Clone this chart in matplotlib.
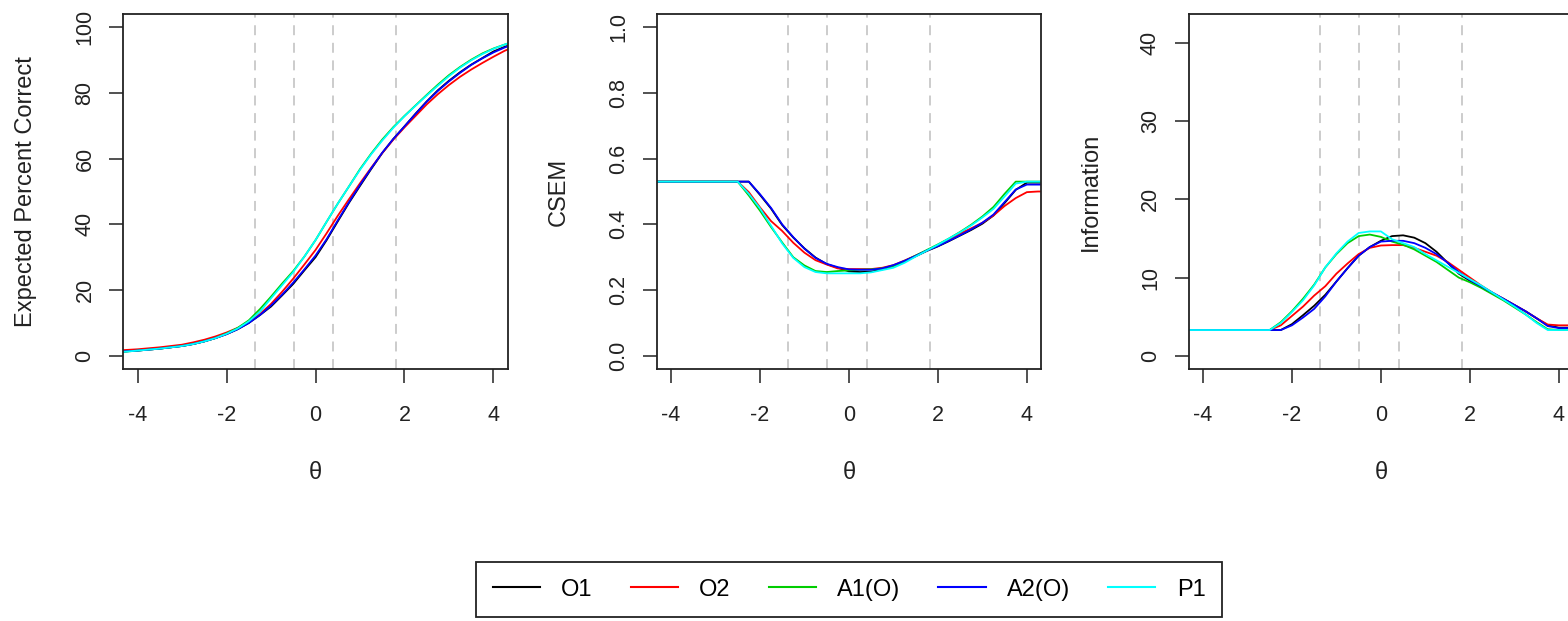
import matplotlib
matplotlib.use('agg')
import matplotlib.pyplot as plt

plt.rcParams['font.family'] = ['Liberation Sans', 'DejaVu Sans']

THETA = [-4.5, -4.25, -4.0, -3.75, -3.5, -3.25, -3.0, -2.75, -2.5, -2.25, -2.0,
         -1.75, -1.5, -1.25, -1.0, -0.75, -0.5, -0.25, 0.0, 0.25, 0.5, 0.75,
         1.0, 1.25, 1.5, 1.75, 2.0, 2.25, 2.5, 2.75, 3.0, 3.25, 3.5, 3.75,
         4.0, 4.25, 4.5]

CUTS = [-1.37, -0.49, 0.40, 1.82]

SERIES = ['O1', 'O2', 'A1(O)', 'A2(O)', 'P1']
COLORS = ['black', 'red', '#00CD00', 'blue', 'cyan']

# expected percent correct
epc_o1 = [1.2, 1.4, 1.6, 1.9, 2.2, 2.6, 3.0, 3.6, 4.4, 5.4, 6.6, 8.1, 10.0, 12.4,
          15.0, 18.4, 21.9, 26.0, 30.0, 35.2, 40.9, 46.5, 51.7, 56.8, 61.7,
          66.0, 69.8, 73.7, 77.4, 80.8, 83.7, 86.3, 88.6, 90.6, 92.6, 94.0, 95.1]
epc_o2 = [1.6, 1.8, 2.0, 2.3, 2.6, 3.0, 3.4, 4.1, 4.9, 5.9, 7.1, 8.5, 10.3, 12.7,
          15.8, 19.5, 23.5, 27.8, 32.2, 37.3, 42.6, 47.6, 52.5, 57.2, 61.7,
          65.8, 69.5, 73.0, 76.5, 79.6, 82.4, 84.9, 87.1, 89.1, 91.0, 92.8, 94.2]
epc_a1 = [1.1, 1.3, 1.6, 1.9, 2.2, 2.6, 3.0, 3.6, 4.4, 5.4, 6.8, 8.5, 10.8, 14.2,
          18.0, 22.0, 25.8, 30.2, 35.2, 40.8, 46.3, 51.5, 56.8, 61.5, 65.8,
          69.6, 73.0, 76.2, 79.4, 82.5, 85.4, 87.9, 90.1, 92.0, 93.5, 94.7, 95.8]
epc_a2 = [1.2, 1.4, 1.6, 1.9, 2.2, 2.6, 3.0, 3.6, 4.4, 5.4, 6.6, 8.1, 10.0, 12.4,
          15.3, 18.6, 22.3, 26.3, 30.5, 35.5, 41.2, 46.7, 52.0, 57.0, 61.8,
          66.0, 69.8, 73.6, 77.3, 80.6, 83.5, 86.1, 88.5, 90.5, 92.3, 93.8, 95.0]
epc_p1 = [1.1, 1.3, 1.6, 1.9, 2.2, 2.6, 3.0, 3.6, 4.4, 5.4, 6.7, 8.3, 10.5, 13.4,
          17.5, 21.5, 25.5, 30.2, 35.2, 40.8, 46.3, 51.5, 56.6, 61.3, 65.5,
          69.4, 72.9, 76.1, 79.2, 82.2, 85.1, 87.7, 89.9, 91.8, 93.4, 94.7, 95.8]

# CSEM
csem_o1 = [0.530, 0.530, 0.530, 0.530, 0.530, 0.530, 0.530, 0.530, 0.530, 0.530,
           0.490, 0.448, 0.398, 0.360, 0.327, 0.299, 0.279, 0.268, 0.257, 0.255,
           0.256, 0.263, 0.274, 0.287, 0.303, 0.319, 0.333, 0.349, 0.366, 0.383,
           0.402, 0.427, 0.465, 0.505, 0.527, 0.527, 0.527]
csem_o2 = [0.530, 0.530, 0.530, 0.530, 0.530, 0.530, 0.530, 0.530, 0.530, 0.498,
           0.452, 0.410, 0.380, 0.344, 0.314, 0.291, 0.278, 0.266, 0.264, 0.264,
           0.264, 0.268, 0.276, 0.290, 0.305, 0.320, 0.336, 0.353, 0.372, 0.388,
           0.405, 0.427, 0.456, 0.480, 0.498, 0.500, 0.500]
csem_a1 = [0.530, 0.530, 0.530, 0.530, 0.530, 0.530, 0.530, 0.530, 0.530, 0.488,
           0.442, 0.392, 0.345, 0.300, 0.275, 0.258, 0.255, 0.258, 0.260, 0.262,
           0.263, 0.266, 0.273, 0.288, 0.305, 0.322, 0.339, 0.357, 0.377, 0.399,
           0.424, 0.453, 0.493, 0.530, 0.530, 0.530, 0.530]
csem_a2 = [0.530, 0.530, 0.530, 0.530, 0.530, 0.530, 0.530, 0.530, 0.530, 0.530,
           0.492, 0.450, 0.400, 0.361, 0.326, 0.298, 0.280, 0.270, 0.263, 0.262,
           0.262, 0.266, 0.276, 0.289, 0.304, 0.320, 0.334, 0.350, 0.367, 0.385,
           0.405, 0.430, 0.468, 0.506, 0.521, 0.521, 0.521]
csem_p1 = [0.530, 0.530, 0.530, 0.530, 0.530, 0.530, 0.530, 0.530, 0.530, 0.493,
           0.449, 0.396, 0.342, 0.298, 0.270, 0.255, 0.251, 0.251, 0.251, 0.251,
           0.254, 0.261, 0.268, 0.283, 0.302, 0.320, 0.338, 0.357, 0.376, 0.397,
           0.421, 0.447, 0.485, 0.524, 0.530, 0.530, 0.530]

# information
info_o1 = [3.3, 3.3, 3.3, 3.3, 3.3, 3.3, 3.3, 3.3, 3.3, 3.3, 4.05, 5.2, 6.4, 7.8,
           9.5, 11.2, 12.8, 13.9, 14.7, 15.3, 15.4, 15.1, 14.4, 13.3, 11.9, 10.5,
           9.6, 8.8, 8.0, 7.3, 6.5, 5.7, 4.8, 3.9, 3.6, 3.6, 3.6]
info_o2 = [3.3, 3.3, 3.3, 3.3, 3.3, 3.3, 3.3, 3.3, 3.3, 3.9, 5.1, 6.3, 7.7, 8.9,
           10.5, 11.8, 13.0, 13.8, 14.1, 14.15, 14.15, 13.8, 13.3, 12.8, 12.0,
           11.0, 10.0, 9.0, 8.1, 7.3, 6.5, 5.7, 4.8, 4.0, 3.9, 3.9, 3.9]
info_a1 = [3.3, 3.3, 3.3, 3.3, 3.3, 3.3, 3.3, 3.3, 3.3, 4.3, 5.7, 7.3, 9.1, 11.3,
           13.0, 14.4, 15.3, 15.5, 15.2, 14.6, 14.2, 13.6, 12.8, 12.0, 11.0,
           10.0, 9.4, 8.7, 7.9, 7.1, 6.2, 5.3, 4.3, 3.4, 3.3, 3.3, 3.3]
info_a2 = [3.3, 3.3, 3.3, 3.3, 3.3, 3.3, 3.3, 3.3, 3.3, 3.3, 3.9, 4.9, 6.0, 7.6,
           9.5, 11.2, 12.8, 13.9, 14.6, 14.7, 14.7, 14.4, 13.8, 13.0, 11.9, 10.7,
           9.7, 8.9, 8.1, 7.3, 6.5, 5.7, 4.8, 3.8, 3.55, 3.55, 3.55]
info_p1 = [3.3, 3.3, 3.3, 3.3, 3.3, 3.3, 3.3, 3.3, 3.3, 4.2, 5.6, 7.1, 9.0, 11.3,
           13.1, 14.6, 15.7, 15.9, 15.9, 14.9, 14.4, 13.9, 13.0, 12.2, 11.4,
           10.6, 9.8, 9.0, 8.1, 7.2, 6.3, 5.3, 4.2, 3.3, 3.3, 3.3, 3.3]

PANELS = [
    ('Expected Percent Correct', [epc_o1, epc_o2, epc_a1, epc_a2, epc_p1],
     (-4.0, 104.0), [0, 20, 40, 60, 80, 100], ['0', '20', '40', '60', '80', '100']),
    ('CSEM', [csem_o1, csem_o2, csem_a1, csem_a2, csem_p1],
     (-0.04, 1.04), [0, 0.2, 0.4, 0.6, 0.8, 1.0], ['0.0', '0.2', '0.4', '0.6', '0.8', '1.0']),
    ('Information', [info_o1, info_o2, info_a1, info_a2, info_p1],
     (-1.68, 43.68), [0, 10, 20, 30, 40], ['0', '10', '20', '30', '40']),
]

W, H = 1568, 621
fig = plt.figure(figsize=(W / 100, H / 100), dpi=100)

lefts = [123.3, 656.7, 1188.7]
handles = []
for left, (ylabel, data, ylim, yticks, ylabels) in zip(lefts, PANELS):
    ax = fig.add_axes([left / W, (H - 369) / H, 384.4 / W, 355 / H])
    for cut in CUTS:
        ax.axvline(cut, color='#BEBEBE', lw=1.1, dashes=(6.5, 5.0), zorder=1)
    lines = []
    for vals, col, name in zip(data, COLORS, SERIES):
        l, = ax.plot(THETA, vals, color=col, lw=1.3, label=name, zorder=2)
        lines.append(l)
    handles = lines
    ax.set_xlim(-4.32, 4.32)
    ax.set_ylim(*ylim)
    ax.set_xticks([-4, -2, 0, 2, 4])
    ax.set_xticklabels(['-4', '-2', '0', '2', '4'])
    ax.set_yticks(yticks)
    ax.set_yticklabels(ylabels, rotation=90, va='center')
    ax.tick_params(axis='both', direction='out', length=10, width=1.1,
                   labelsize=15.5, colors='#222222')
    ax.tick_params(axis='x', pad=16)
    ax.tick_params(axis='y', pad=10)
    for sp in ax.spines.values():
        sp.set_linewidth(1.3)
        sp.set_color('#222222')
    ax.set_ylabel(ylabel, fontsize=17, color='#222222')
    ax.yaxis.set_label_coords(-0.2255, 0.5)
    ax.set_xlabel('\u03b8', fontsize=17, color='#222222')
    ax.xaxis.set_label_coords(0.5, -0.262)
    ax.xaxis.label.set_va('top')

leg = fig.legend(handles, SERIES, loc='upper center', ncol=5, mode='expand',
                 bbox_to_anchor=(476 / W, 0.0, 746 / W, (H - 562) / H),
                 borderaxespad=0, fontsize=17, handlelength=2.0,
                 handletextpad=0.9, borderpad=0.7, fancybox=False,
                 edgecolor='#222222', framealpha=1)
leg.get_frame().set_linewidth(1.3)
for lh in leg.get_lines():
    lh.set_linewidth(1.5)

fig.savefig('out.png', dpi=100)
